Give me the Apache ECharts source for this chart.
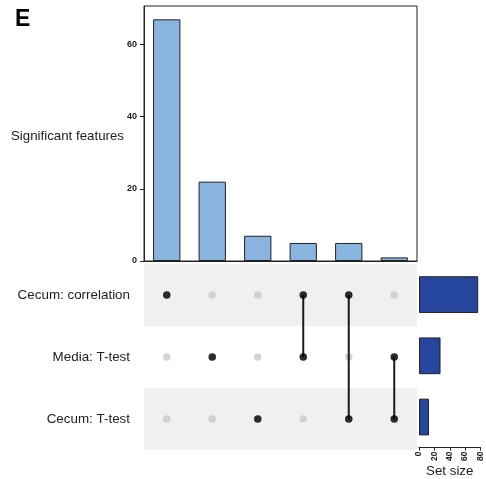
<!DOCTYPE html>
<html>
<head>
<meta charset="utf-8">
<script src="https://cdn.jsdelivr.net/npm/echarts@6/dist/echarts.min.js"></script>
<style>
  html, body { margin: 0; padding: 0; background: #fff; }
  #chart { width: 486px; height: 479px; }
</style>
</head>
<body>
<div id="chart"></div>
<script>
// sets (matrix rows, top to bottom) and their sizes
const setNames = ["Cecum: correlation", "Media: T-test", "Cecum: T-test"];
const setSizes = [77, 28, 13];
// intersections (matrix columns, left to right)
const intersections = ["I1", "I2", "I3", "I4", "I5", "I6"];
const intersectionCounts = [67, 22, 7, 5, 5, 1];
const memberships = [[0], [1], [2], [0, 1], [0, 2], [1, 2]];
const countTicks = [0, 20, 40, 60];
const sizeTicks = [0, 20, 40, 60, 80];

const font = "Liberation Sans";
const ink = "#222";

const allDots = [];
intersections.forEach((_, i) => setNames.forEach((_, s) => allDots.push([i, s])));
const memberDots = [];
memberships.forEach((m, i) => m.forEach(s => memberDots.push([i, s])));
const links = memberships
  .map((m, i) => [i, Math.min(...m), Math.max(...m)])
  .filter(d => d[1] !== d[2]);

const chart = echarts.init(document.getElementById("chart"), null, { renderer: "canvas" });
chart.setOption({
  animation: false,
  backgroundColor: "#fff",
  textStyle: { fontFamily: font },
  graphic: [
    { type: "text", left: 15, top: 8, style: { text: "E", font: "bold 23px " + font, fill: "#000" } },
    {
      type: "text", x: 124, y: 136.5,
      style: { text: "Significant features", font: "13.3px " + font, fill: ink, align: "right", verticalAlign: "middle" }
    }
  ],
  grid: [
    { left: 144, top: 6, width: 273, height: 255, show: true, borderColor: ink, borderWidth: 1, backgroundColor: "transparent" },
    { left: 144, top: 264, width: 273, height: 186 },
    { left: 419, top: 264, width: 61.5, height: 186 }
  ],
  xAxis: [
    {
      gridIndex: 0, type: "category", data: intersections,
      axisLine: { show: true, lineStyle: { color: ink } },
      axisTick: { show: false }, axisLabel: { show: false }
    },
    {
      gridIndex: 1, type: "category", data: intersections,
      axisLine: { show: false }, axisTick: { show: false }, axisLabel: { show: false }
    },
    {
      gridIndex: 2, type: "value", min: 0, max: 80, interval: 20,
      name: "Set size", nameLocation: "middle", nameGap: 16,
      nameTextStyle: { fontSize: 13.3, color: ink, fontFamily: font },
      axisLine: { show: true, lineStyle: { color: ink } },
      axisTick: { show: true, length: 3, customValues: sizeTicks, lineStyle: { color: ink } },
      axisLabel: { rotate: 90, fontSize: 8.5, fontWeight: "bold", color: ink, margin: 4, customValues: sizeTicks },
      splitLine: { show: false }
    }
  ],
  yAxis: [
    {
      gridIndex: 0, type: "value", min: 0, max: 70.7,
      axisLine: { show: true, lineStyle: { color: ink } },
      axisTick: { show: true, length: 4, customValues: countTicks, lineStyle: { color: ink } },
      axisLabel: { fontSize: 9, fontWeight: "bold", color: ink, margin: 7, customValues: countTicks },
      splitLine: { show: false }
    },
    {
      gridIndex: 1, type: "category", data: setNames, inverse: true,
      axisLine: { show: false }, axisTick: { show: false },
      axisLabel: { fontSize: 13.4, color: ink, margin: 14 },
      splitArea: { show: true, areaStyle: { color: ["#f0f0f0", "#ffffff"] } }
    },
    {
      gridIndex: 2, type: "category", data: setNames, inverse: true,
      axisLine: { show: false }, axisTick: { show: false }, axisLabel: { show: false }
    }
  ],
  series: [
    {
      type: "bar", xAxisIndex: 0, yAxisIndex: 0, data: intersectionCounts, barWidth: "60%",
      itemStyle: { color: "#8ab4e0", borderColor: ink, borderWidth: 1 }
    },
    {
      type: "scatter", xAxisIndex: 1, yAxisIndex: 1, data: allDots, symbolSize: 7.5,
      itemStyle: { color: "#c9c9c9" }, z: 2
    },
    {
      type: "custom", xAxisIndex: 1, yAxisIndex: 1, data: links, z: 3,
      encode: { x: 0, y: [1, 2] },
      renderItem: (params, api) => {
        const a = api.coord([api.value(0), api.value(1)]);
        const b = api.coord([api.value(0), api.value(2)]);
        return {
          type: "line",
          shape: { x1: a[0], y1: a[1], x2: b[0], y2: b[1] },
          style: { stroke: "#1a1a1a", lineWidth: 2 }
        };
      }
    },
    {
      type: "scatter", xAxisIndex: 1, yAxisIndex: 1, data: memberDots, symbolSize: 7.5,
      itemStyle: { color: "#000" }, z: 4
    },
    {
      type: "bar", xAxisIndex: 2, yAxisIndex: 2, data: setSizes, barWidth: "60%",
      itemStyle: { color: "#27469e", borderColor: ink, borderWidth: 1 }
    }
  ]
});
</script>
</body>
</html>
